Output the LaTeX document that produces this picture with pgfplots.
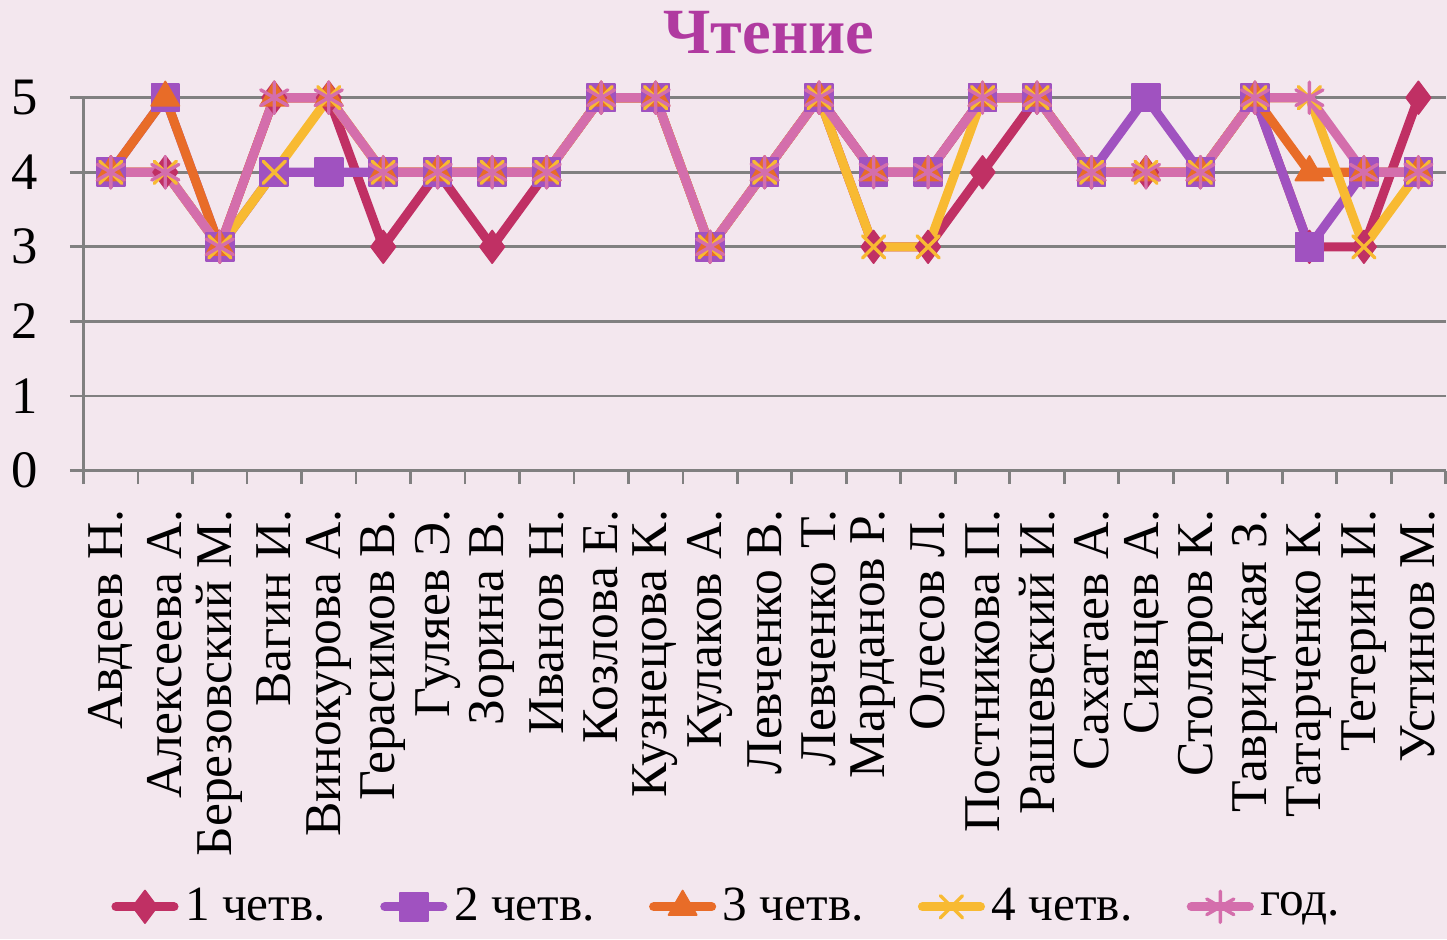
\documentclass[border=0pt]{standalone}
\usepackage{pgfplots}
\pgfplotsset{compat=1.18}
\usepackage{pgfplotstable}
\usepackage{fontspec}
\setmainfont{Liberation Serif}
\usetikzlibrary{backgrounds}

\definecolor{bgpink}{RGB}{243,231,238}
\definecolor{cq1}{RGB}{192,48,100}
\definecolor{cq2}{RGB}{160,82,192}
\definecolor{cq3}{RGB}{232,108,40}
\definecolor{cq4}{RGB}{248,186,50}
\definecolor{cgod}{RGB}{212,110,172}
\definecolor{ctitle}{RGB}{176,58,160}

% student, 1..4 quarter, year
\pgfplotstableread{
n q1 q2 q3 q4 god
1 4 4 4 4 4
2 4 5 5 4 4
3 3 3 3 3 3
4 5 4 5 4 5
5 5 4 5 5 5
6 3 4 4 4 4
7 4 4 4 4 4
8 3 4 4 4 4
9 4 4 4 4 4
10 5 5 5 5 5
11 5 5 5 5 5
12 3 3 3 3 3
13 4 4 4 4 4
14 5 5 5 5 5
15 3 4 4 3 4
16 3 4 4 3 4
17 4 5 5 5 5
18 5 5 5 5 5
19 4 4 4 4 4
20 4 5 4 4 4
21 4 4 4 4 4
22 5 5 5 5 5
23 3 3 4 5 5
24 3 4 4 3 4
25 5 4 4 4 4
}\grades

\begin{document}
\begin{tikzpicture}[show background rectangle, tight background,
  background rectangle/.style={fill=bgpink, draw=none}]
\begin{axis}[
  scale only axis, width=14.1cm, height=3.86cm,
  xmin=0.5, xmax=25.5, ymin=0, ymax=5,
  clip=false,
  axis x line*=bottom, axis y line*=left,
  axis line style={gray, line width=0.8pt, -},
  ytick={0,...,5}, ymajorgrids,
  grid style={gray, line width=0.8pt},
  tick align=outside, tick style={gray, line width=0.8pt},
  major tick length=4pt, minor tick length=4pt,
  xtick={1,...,25},
  major x tick style={draw=none},
  minor xtick={0.5,1.5,...,25.5},
  xticklabels={Авдеев Н., Алексеева А., Березовский М., Вагин И., Винокурова А., Герасимов В., Гуляев Э., Зорина В., Иванов Н., Козлова Е., Кузнецова К., Кулаков А., Левченко В., Левченко Т., Марданов Р., Олесов Л., Постникова П., Рашевский И., Сахатаев А., Сивцев А., Столяров К., Тавридская З., Татарченко К., Тетерин И., Устинов М.},
  xticklabel style={rotate=90, anchor=east, font=\fontsize{15.2}{16}\selectfont},
  xticklabel shift=4pt,
  yticklabel style={font=\fontsize{15.5}{16}\selectfont},
  yticklabel shift=6pt,
  /pgf/number format/assume math mode=true,
  title={\textbf{Чтение}},
  title style={at={(0.503,1.03)}, anchor=south, color=ctitle, font=\fontsize{19}{20}\selectfont},
  every axis plot/.append style={line width=2.7pt, line join=round, line cap=round},
  legend columns=5,
  legend style={draw=none, fill=none, at={(0.474,-1.17)}, anchor=center,
    font=\fontsize{14.5}{15}\selectfont,
    /tikz/every even column/.append style={column sep=14pt}},
]
\addplot[cq1, mark=diamond*, mark size=4.8pt, mark options={fill=cq1, line width=0.5pt}] table[x=n, y=q1] {\grades};
\addlegendentry{1 четв.}
\addplot[cq2, mark=square*, mark size=4.1pt, mark options={fill=cq2, line width=0.5pt}] table[x=n, y=q2] {\grades};
\addlegendentry{2 четв.}
\addplot[cq3, mark=triangle*, mark size=4.8pt, mark options={fill=cq3, line width=0.5pt}] table[x=n, y=q3] {\grades};
\addlegendentry{3 четв.}
\addplot[cq4, mark=x, mark size=4.6pt, mark options={line width=1pt}] table[x=n, y=q4] {\grades};
\addlegendentry{4 четв.}
\addplot[cgod, mark=asterisk, mark size=4.6pt, mark options={line width=1pt}] table[x=n, y=god] {\grades};
\addlegendentry{год.}
\end{axis}
\end{tikzpicture}
\end{document}
